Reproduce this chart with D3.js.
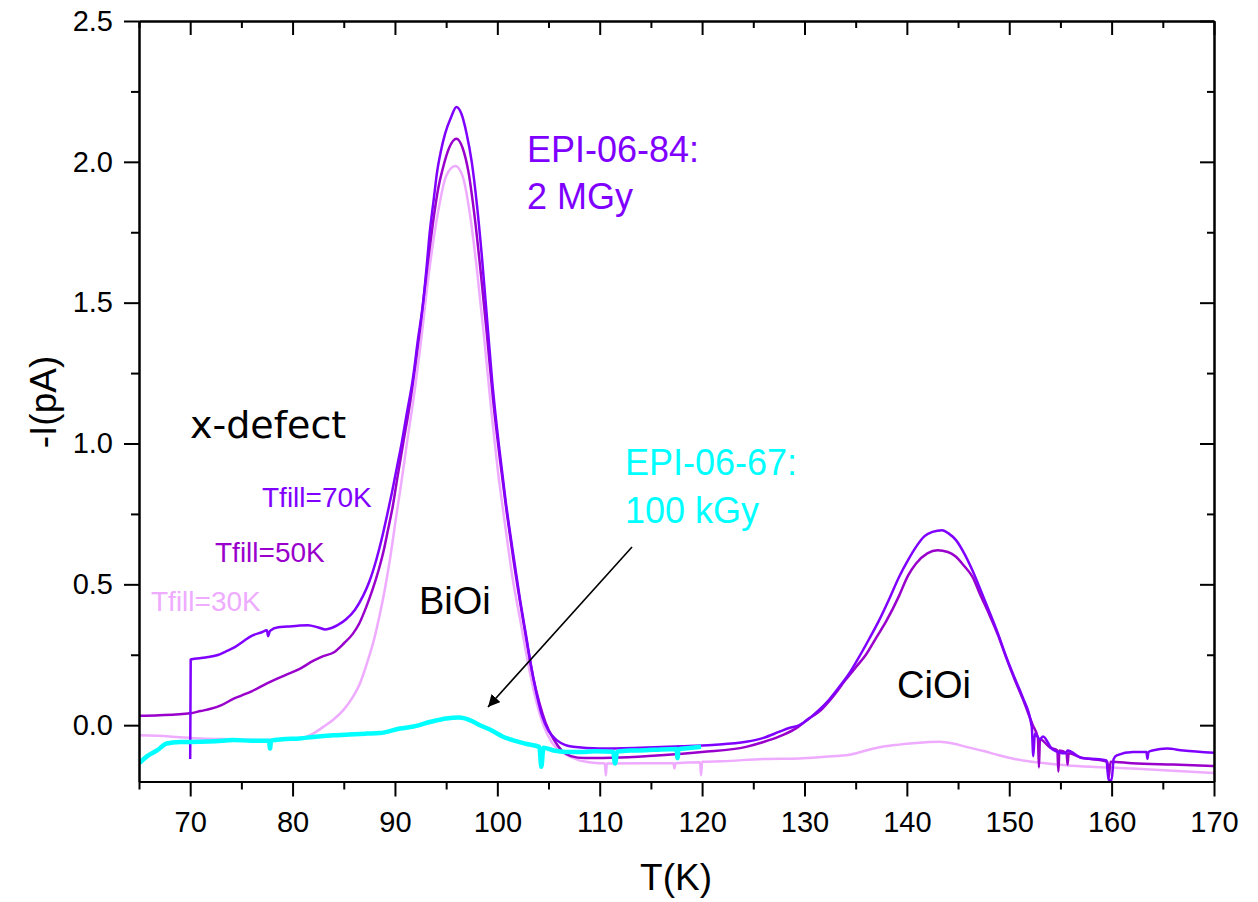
<!DOCTYPE html>
<html>
<head>
<meta charset="utf-8">
<script src="https://cdn.jsdelivr.net/npm/d3@7"></script>
<style>
  body { margin: 0; background: #fff; }
  text { font-family: "Liberation Sans", Arial, sans-serif; }
</style>
</head>
<body>
<div id="chart"></div>
<script>
// ---- data: [T (K), -I (pA)] ----
var tfill70 = [[70,-0.12],[70.05,0.233],[71.5,0.24],[72.7,0.249],[73.5,0.262],[74.4,0.278],[75.2,0.298],[76.05,0.318],[77,0.33],[77.5,0.337],[77.6,0.316],[77.8,0.335],[78.6,0.348],[79.5,0.35],[80.5,0.353],[81.5,0.355],[82.5,0.347],[83.2,0.34],[83.8,0.345],[84.4,0.355],[85.2,0.375],[86.1,0.41],[86.9,0.46],[87.5,0.51],[88.2,0.59],[88.7,0.66],[89.2,0.74],[89.7,0.825],[90.2,0.917],[90.65,1.0],[91.1,1.095],[91.75,1.23],[92.25,1.37],[92.75,1.5],[93.1,1.63],[93.4,1.75],[93.8,1.87],[94.1,1.96],[94.5,2.04],[94.9,2.1],[95.5,2.16],[96.0,2.195],[96.5,2.17],[97.0,2.1],[97.5,2.0],[98.0,1.85],[98.5,1.66],[99.0,1.44],[99.5,1.22],[100.2,0.98],[100.8,0.8],[101.5,0.62],[102.2,0.45],[102.8,0.32],[103.3,0.21],[103.9,0.1],[104.4,0.03],[105.0,-0.02],[105.8,-0.053],[106.6,-0.07],[107.4,-0.077],[110,-0.083],[114,-0.08],[118,-0.075],[121,-0.07],[124.3,-0.059],[126,-0.045],[127.5,-0.024],[128.5,-0.01],[129.5,0.0],[130.5,0.025],[131.4,0.053],[132.4,0.09],[133.4,0.136],[134.4,0.185],[135.35,0.243],[136.3,0.305],[137.3,0.373],[138.3,0.45],[139.25,0.527],[140.1,0.585],[140.9,0.633],[141.7,0.67],[142.5,0.686],[143.45,0.692],[144.1,0.68],[144.8,0.657],[145.6,0.61],[146.4,0.55],[147.2,0.48],[148.0,0.408],[148.9,0.325],[149.7,0.243],[150.5,0.17],[151.3,0.10],[152.2,-0.006],[152.35,-0.11],[152.5,-0.03],[153.0,-0.05],[153.3,-0.04],[154.2,-0.085],[155.5,-0.1],[155.7,-0.09],[157.1,-0.117],[158.8,-0.121],[159.5,-0.125],[159.7,-0.195],[160.0,-0.195],[160.2,-0.12],[160.5,-0.107],[162.1,-0.095],[163.4,-0.095],[163.5,-0.12],[163.6,-0.095],[164.1,-0.089],[165.4,-0.083],[167,-0.09],[170,-0.098]];

var tfill50 = [[65,0.033],[67,0.035],[70,0.042],[71,0.05],[72,0.058],[73,0.07],[74.2,0.093],[75,0.105],[76,0.12],[77.5,0.148],[78.5,0.165],[79.3,0.178],[80.7,0.2],[82,0.228],[83,0.245],[84,0.258],[85,0.29],[85.9,0.325],[86.5,0.36],[87.2,0.42],[87.8,0.48],[88.4,0.55],[88.9,0.62],[89.3,0.69],[89.8,0.78],[90.2,0.87],[90.8,1.0],[91.5,1.15],[92.0,1.28],[92.5,1.42],[93.2,1.64],[93.7,1.78],[94.2,1.9],[94.7,1.98],[95.3,2.05],[96.0,2.082],[96.6,2.05],[97.2,1.96],[97.8,1.8],[98.4,1.6],[99.0,1.38],[99.6,1.15],[100.3,0.93],[100.9,0.76],[101.6,0.58],[102.3,0.42],[102.9,0.29],[103.5,0.17],[104.1,0.08],[104.7,0.01],[105.5,-0.05],[106.3,-0.09],[107.2,-0.11],[108.5,-0.117],[112,-0.115],[116,-0.107],[120,-0.095],[124.3,-0.077],[126,-0.06],[127.5,-0.041],[129,-0.015],[130.5,0.025],[131.5,0.05],[132.75,0.1],[134,0.16],[135,0.205],[136,0.25],[137,0.31],[138,0.37],[139.25,0.46],[140.1,0.53],[140.9,0.574],[142,0.61],[143,0.621],[144,0.615],[144.8,0.598],[145.6,0.565],[146.4,0.527],[147.2,0.46],[148,0.397],[148.9,0.32],[149.7,0.24],[150.5,0.165],[151.3,0.095],[152.3,0.0],[152.8,-0.045],[152.9,-0.15],[153.0,-0.05],[154,-0.08],[154.7,-0.09],[154.8,-0.165],[154.9,-0.09],[155.6,-0.1],[155.7,-0.14],[155.8,-0.1],[157,-0.115],[159,-0.125],[159.6,-0.13],[159.7,-0.19],[159.9,-0.13],[162,-0.135],[166,-0.14],[170,-0.145]];

var tfill30 = [[65,-0.036],[68,-0.04],[71,-0.047],[74,-0.05],[77.5,-0.053],[80.7,-0.047],[82,-0.03],[83,-0.006],[84,0.02],[85,0.055],[85.8,0.095],[86.6,0.15],[87.4,0.235],[88,0.31],[88.5,0.39],[89,0.48],[89.5,0.586],[90.2,0.76],[90.7,0.88],[91.2,1.01],[91.8,1.154],[92.5,1.35],[93.3,1.6],[94.2,1.82],[95.0,1.95],[95.9,1.985],[96.6,1.95],[97.3,1.82],[98.0,1.62],[98.7,1.38],[99.4,1.12],[100.0,0.92],[100.8,0.7],[101.5,0.52],[102.2,0.38],[103,0.22],[103.7,0.1],[104.5,0.0],[105.3,-0.06],[106.5,-0.1],[108,-0.125],[110,-0.135],[110.5,-0.136],[110.6,-0.178],[110.7,-0.136],[114,-0.135],[117.2,-0.135],[117.3,-0.153],[117.4,-0.135],[119.8,-0.132],[119.9,-0.178],[120.0,-0.13],[122,-0.128],[126,-0.12],[129.5,-0.118],[132,-0.112],[134.4,-0.105],[136,-0.09],[137.6,-0.077],[139,-0.07],[140.9,-0.063],[143.2,-0.059],[144.5,-0.065],[145.8,-0.077],[147.5,-0.092],[149,-0.107],[150.5,-0.12],[152.2,-0.13],[155.5,-0.142],[158,-0.148],[162,-0.154],[166,-0.162],[170,-0.17]];

var epi67 = [[65,-0.136],[65.8,-0.11],[66.8,-0.089],[67.7,-0.065],[69,-0.06],[71,-0.059],[72.5,-0.057],[74.2,-0.053],[76,-0.055],[77.7,-0.055],[77.8,-0.083],[77.9,-0.055],[79,-0.05],[80.7,-0.047],[82,-0.042],[84,-0.036],[85.5,-0.033],[87.2,-0.03],[88.5,-0.028],[90.5,-0.012],[91.8,-0.005],[93.5,0.012],[95,0.024],[96.3,0.027],[97.3,0.018],[98.3,0.0],[99.5,-0.02],[100.5,-0.04],[101.5,-0.053],[102.8,-0.066],[104.1,-0.077],[104.3,-0.148],[104.5,-0.08],[105.5,-0.09],[106.7,-0.095],[108,-0.095],[109.5,-0.093],[111.3,-0.094],[111.5,-0.136],[111.7,-0.094],[113,-0.09],[114.5,-0.089],[116,-0.086],[117.5,-0.085],[117.6,-0.117],[117.7,-0.085],[118.5,-0.082],[119.9,-0.077]];

var xTicks = [70, 80, 90, 100, 110, 120, 130, 140, 150, 160, 170];
var xMinor = [65, 75, 85, 95, 105, 115, 125, 135, 145, 155, 165];
var yTicks = [0.0, 0.5, 1.0, 1.5, 2.0, 2.5];
var yMinor = [0.25, 0.75, 1.25, 1.75, 2.25];

var svgWidth = 1258;
var svgHeight = 902;

var svg = d3.select("#chart")
  .append("svg")
  .attr("width", svgWidth)
  .attr("height", svgHeight);

// scales
var x = d3.scaleLinear().domain([65, 170]).range([139, 1214]);
var y = d3.scaleLinear().domain([-0.2, 2.5]).range([781.5, 21]);

// clip for the curves
svg.append("clipPath").attr("id", "plot")
  .append("rect")
  .attr("x", x(65)).attr("y", y(2.5))
  .attr("width", x(170) - x(65)).attr("height", y(-0.2) - y(2.5));

var line = d3.line()
  .curve(d3.curveMonotoneX)
  .x(d => x(d[0]))
  .y(d => y(d[1]));

var curves = [
  {data: tfill30, color: "#eeabff", w: 2.5},
  {data: tfill50, color: "#9a00cc", w: 2.5},
  {data: tfill70, color: "#7f00ff", w: 2.5},
  {data: epi67, color: "#00ffff", w: 4.5}
];

var plot = svg.append("g").attr("clip-path", "url(#plot)");
curves.forEach(function(c) {
  plot.append("path")
    .datum(c.data)
    .attr("fill", "none")
    .attr("stroke", c.color)
    .attr("stroke-width", c.w)
    .attr("stroke-linejoin", "round")
    .attr("d", line);
});

// axes
function styleAxis(g) {
  g.selectAll("path").attr("stroke", "#000").attr("stroke-width", 2);
  g.selectAll("line").attr("stroke", "#000").attr("stroke-width", 2);
  g.selectAll("text").attr("fill", "#000").style("font-size", "29px");
}

svg.append("g")
  .attr("transform", `translate(0, ${y(-0.2)})`)
  .call(d3.axisBottom(x).tickValues(xTicks).tickSize(15).tickSizeOuter(0).tickPadding(15))
  .call(styleAxis);
svg.append("g")
  .attr("transform", `translate(0, ${y(-0.2)})`)
  .call(d3.axisBottom(x).tickValues(xMinor).tickSize(8).tickSizeOuter(0).tickFormat(""))
  .call(styleAxis);

svg.append("g")
  .attr("transform", `translate(${x(65)}, 0)`)
  .call(d3.axisLeft(y).tickValues(yTicks).tickSize(15).tickSizeOuter(0).tickPadding(11).tickFormat(d3.format(".1f")))
  .call(styleAxis);
svg.append("g")
  .attr("transform", `translate(${x(65)}, 0)`)
  .call(d3.axisLeft(y).tickValues(yMinor).tickSize(8).tickSizeOuter(0).tickFormat(""))
  .call(styleAxis);

// top and right frame, ticks pointing inward
svg.append("g")
  .attr("transform", `translate(0, ${y(2.5)})`)
  .call(d3.axisTop(x).tickValues(xTicks).tickSize(-14).tickSizeOuter(0).tickFormat(""))
  .call(styleAxis);
svg.append("g")
  .attr("transform", `translate(0, ${y(2.5)})`)
  .call(d3.axisTop(x).tickValues(xMinor).tickSize(-7).tickSizeOuter(0).tickFormat(""))
  .call(styleAxis);
svg.append("g")
  .attr("transform", `translate(${x(170)}, 0)`)
  .call(d3.axisRight(y).tickValues(yTicks).tickSize(-14).tickSizeOuter(0).tickFormat(""))
  .call(styleAxis);
svg.append("g")
  .attr("transform", `translate(${x(170)}, 0)`)
  .call(d3.axisRight(y).tickValues(yMinor).tickSize(-7).tickSizeOuter(0).tickFormat(""))
  .call(styleAxis);

// axis titles
svg.append("text")
  .attr("x", 676).attr("y", 890)
  .attr("text-anchor", "middle")
  .style("font-size", "37px")
  .text("T(K)");

svg.append("text")
  .attr("transform", "translate(56, 402) rotate(-90)")
  .attr("text-anchor", "middle")
  .style("font-size", "37px")
  .text("-I(pA)");

// annotations
var notes = [
  {t: "EPI-06-84:", x: 527, y: 162, size: 36, color: "#8000ff"},
  {t: "2 MGy", x: 527, y: 209, size: 36, color: "#8000ff"},
  {t: "EPI-06-67:", x: 625, y: 475, size: 36, color: "#00ffff"},
  {t: "100 kGy", x: 625, y: 523, size: 36, color: "#00ffff"},
  {t: "x-defect", x: 190, y: 438, size: 38, color: "#000", font: "DejaVu Sans"},
  {t: "Tfill=70K", x: 262, y: 507, size: 28, color: "#8000ff"},
  {t: "Tfill=50K", x: 215, y: 562, size: 28, color: "#9a00cc"},
  {t: "Tfill=30K", x: 151, y: 611, size: 28, color: "#eeabff"},
  {t: "BiOi", x: 419, y: 614, size: 38, color: "#000"},
  {t: "CiOi", x: 897, y: 698, size: 38, color: "#000"}
];

notes.forEach(function(n) {
  var t = svg.append("text")
    .attr("x", n.x).attr("y", n.y)
    .attr("fill", n.color)
    .style("font-size", n.size + "px")
    .text(n.t);
  if (n.font) t.style("font-family", n.font);
});

// arrow pointing at the 100 kGy curve
svg.append("defs").append("marker")
  .attr("id", "head")
  .attr("viewBox", "0 0 10 10")
  .attr("refX", 10).attr("refY", 5)
  .attr("markerWidth", 12).attr("markerHeight", 12)
  .attr("markerUnits", "userSpaceOnUse")
  .attr("orient", "auto")
  .append("path")
  .attr("d", "M0,0 L10,5 L0,10 z")
  .attr("fill", "#000");

svg.append("line")
  .attr("x1", 632).attr("y1", 547)
  .attr("x2", 488).attr("y2", 707)
  .attr("stroke", "#000")
  .attr("stroke-width", 1.6)
  .attr("marker-end", "url(#head)");
</script>
</body>
</html>
